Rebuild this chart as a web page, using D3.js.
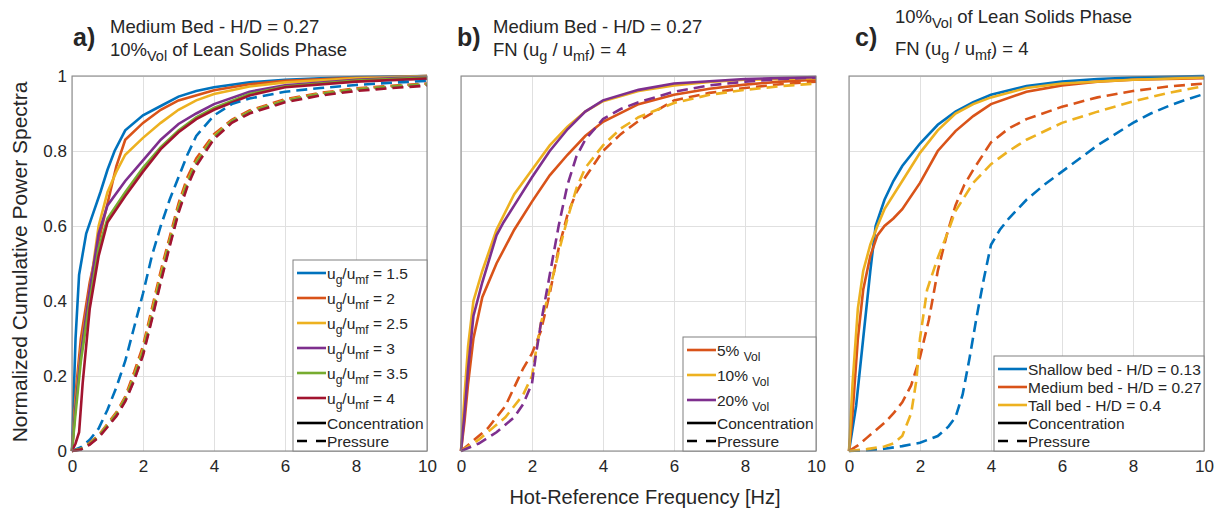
<!DOCTYPE html>
<html>
<head>
<meta charset="utf-8">
<script src="https://cdn.jsdelivr.net/npm/d3@7"></script>
<style>
  body { margin: 0; background: #fff; }
  text { font-family: "Liberation Sans", Arial, sans-serif; fill: #262626; }
</style>
</head>
<body>
<svg id="chart" width="1219" height="510"></svg>
<script>
// axis ticks
var xTicks = [0, 2, 4, 6, 8, 10];
var xTickLabels = ["0", "2", "4", "6", "8", "10"];
var yTicks = [0, 0.2, 0.4, 0.6, 0.8, 1];
var yTickLabels = ["0", "0.2", "0.4", "0.6", "0.8", "1"];

// colours (matlab default order)
var cBlue = "#0072BD", cRed = "#D95319", cYellow = "#EDB120",
    cPurple = "#7E2F8E", cGreen = "#77AC30", cDarkRed = "#A2142F";

// ---- panel a : ug/umf sweep, [freq Hz, cumulative]
var aConc15 = [[0,0],[0.1,0.3],[0.2,0.47],[0.4,0.58],[0.6,0.635],[0.8,0.69],[1.0,0.75],[1.2,0.8],[1.5,0.855],[2,0.895],[2.5,0.92],[3,0.945],[3.5,0.96],[4,0.97],[5,0.983],[6,0.99],[7,0.994],[8,0.997],[10,1]];
var aConc2 = [[0,0],[0.1,0.15],[0.25,0.3],[0.5,0.45],[0.75,0.56],[1.0,0.66],[1.25,0.76],[1.5,0.83],[2,0.875],[2.5,0.91],[3,0.935],[4,0.962],[5,0.978],[6,0.987],[8,0.995],[10,1]];
var aConc25 = [[0,0],[0.1,0.13],[0.25,0.27],[0.5,0.43],[0.75,0.6],[1.0,0.69],[1.25,0.745],[1.5,0.79],[2,0.835],[2.5,0.875],[3,0.91],[3.5,0.935],[4,0.952],[5,0.972],[6,0.983],[8,0.994],[10,1]];
var aConc3 = [[0,0],[0.1,0.12],[0.25,0.26],[0.5,0.43],[0.75,0.58],[1,0.655],[1.5,0.72],[2,0.775],[2.5,0.83],[3,0.872],[3.5,0.9],[4,0.925],[5,0.958],[6,0.975],[8,0.99],[10,0.998]];
var aConc35 = [[0,0],[0.1,0.1],[0.25,0.24],[0.5,0.4],[0.75,0.54],[1,0.62],[1.5,0.69],[2,0.755],[2.5,0.81],[3,0.855],[3.5,0.89],[4,0.915],[5,0.952],[6,0.972],[8,0.988],[10,0.996]];
var aConc4 = [[0,0],[0.1,0.02],[0.2,0.05],[0.3,0.18],[0.5,0.38],[0.75,0.52],[1,0.61],[1.5,0.68],[2,0.745],[2.5,0.805],[3,0.85],[3.5,0.885],[4,0.91],[5,0.948],[6,0.97],[8,0.985],[10,0.993]];

var aPres15 = [[0,0],[0.25,0.01],[0.5,0.03],[0.75,0.06],[1,0.11],[1.25,0.17],[1.5,0.24],[1.75,0.33],[2,0.42],[2.25,0.52],[2.5,0.6],[2.75,0.67],[3,0.73],[3.25,0.79],[3.5,0.84],[4,0.895],[4.5,0.925],[5,0.94],[6,0.958],[7,0.968],[8,0.976],[9,0.982],[10,0.987]];
var aPres2 = [[0,0],[0.25,0.006],[0.5,0.022],[0.75,0.042],[1,0.072],[1.25,0.103],[1.5,0.145],[1.75,0.21],[2,0.28],[2.25,0.38],[2.5,0.48],[2.75,0.57],[3,0.66],[3.25,0.73],[3.5,0.78],[4,0.845],[4.5,0.883],[5,0.908],[6,0.938],[7,0.955],[8,0.967],[9,0.974],[10,0.98]];
var aPres25 = [[0,0],[0.25,0.005],[0.5,0.02],[0.75,0.04],[1,0.07],[1.25,0.1],[1.5,0.14],[1.75,0.2],[2,0.27],[2.25,0.37],[2.5,0.47],[2.75,0.56],[3,0.65],[3.25,0.72],[3.5,0.77],[4,0.84],[4.5,0.88],[5,0.905],[6,0.935],[7,0.953],[8,0.965],[9,0.972],[10,0.978]];
var aPres3 = [[0,0],[0.25,0.004],[0.5,0.018],[0.75,0.038],[1,0.066],[1.25,0.095],[1.5,0.135],[1.75,0.19],[2,0.26],[2.25,0.355],[2.5,0.455],[2.75,0.55],[3,0.64],[3.25,0.71],[3.5,0.765],[4,0.835],[4.5,0.877],[5,0.903],[6,0.933],[7,0.951],[8,0.963],[9,0.971],[10,0.977]];
var aPres35 = [[0,0],[0.25,0.005],[0.5,0.019],[0.75,0.039],[1,0.068],[1.25,0.098],[1.5,0.138],[1.75,0.196],[2,0.265],[2.25,0.36],[2.5,0.462],[2.75,0.555],[3,0.645],[3.25,0.715],[3.5,0.768],[4,0.838],[4.5,0.879],[5,0.904],[6,0.934],[7,0.952],[8,0.964],[9,0.972],[10,0.978]];
var aPres4 = [[0,0],[0.25,0.004],[0.5,0.017],[0.75,0.036],[1,0.064],[1.25,0.093],[1.5,0.132],[1.75,0.188],[2,0.255],[2.25,0.35],[2.5,0.45],[2.75,0.545],[3,0.635],[3.25,0.705],[3.5,0.76],[4,0.832],[4.5,0.875],[5,0.9],[6,0.93],[7,0.948],[8,0.96],[9,0.968],[10,0.974]];

// ---- panel b : lean phase volume fraction
var bConc5 = [[0,0],[0.1,0.08],[0.2,0.18],[0.35,0.3],[0.6,0.41],[1,0.5],[1.5,0.59],[2,0.665],[2.5,0.735],[3,0.79],[3.5,0.84],[4,0.878],[5,0.925],[6,0.95],[7,0.966],[8,0.977],[9,0.985],[10,0.99]];
var bConc10 = [[0,0],[0.1,0.15],[0.2,0.28],[0.35,0.4],[0.6,0.48],[1,0.59],[1.5,0.685],[2,0.75],[2.5,0.815],[3,0.865],[3.5,0.905],[4,0.933],[5,0.96],[6,0.975],[7,0.984],[8,0.99],[10,0.994]];
var bConc20 = [[0,0],[0.1,0.1],[0.2,0.22],[0.35,0.36],[0.6,0.45],[1,0.575],[1.2,0.61],[1.5,0.655],[2,0.73],[2.5,0.8],[3,0.858],[3.5,0.905],[4,0.935],[5,0.963],[6,0.98],[8,0.992],[10,0.997]];
var bPres5 = [[0,0],[0.25,0.02],[0.5,0.04],[0.75,0.06],[1,0.09],[1.25,0.12],[1.5,0.17],[1.75,0.22],[2,0.26],[2.25,0.32],[2.5,0.42],[2.75,0.54],[3,0.63],[3.25,0.69],[3.5,0.73],[4,0.8],[4.5,0.845],[5,0.88],[6,0.935],[7,0.955],[8,0.968],[9,0.978],[10,0.985]];
var bPres10 = [[0,0],[0.25,0.015],[0.5,0.03],[0.75,0.05],[1,0.07],[1.25,0.09],[1.5,0.12],[1.75,0.15],[2,0.2],[2.1,0.26],[2.25,0.34],[2.5,0.43],[2.75,0.53],[3,0.62],[3.25,0.7],[3.5,0.755],[4,0.815],[4.5,0.86],[5,0.89],[6,0.928],[7,0.95],[8,0.963],[9,0.973],[10,0.98]];
var bPres20 = [[0,0],[0.25,0.01],[0.5,0.02],[0.75,0.035],[1,0.05],[1.25,0.07],[1.5,0.09],[1.75,0.125],[2,0.18],[2.1,0.25],[2.25,0.34],[2.5,0.47],[2.75,0.6],[3,0.71],[3.25,0.785],[3.5,0.83],[4,0.885],[4.5,0.912],[5,0.93],[6,0.958],[7,0.975],[8,0.985],[9,0.992],[10,0.996]];

// ---- panel c : bed height
var cConcShallow = [[0,0],[0.2,0.12],[0.4,0.3],[0.6,0.48],[0.75,0.6],[1,0.67],[1.25,0.72],[1.5,0.76],[2,0.82],[2.5,0.87],[3,0.905],[3.5,0.93],[4,0.95],[5,0.973],[6,0.985],[7,0.992],[8,0.996],[10,1]];
var cConcMedium = [[0,0],[0.1,0.1],[0.25,0.3],[0.4,0.43],[0.6,0.52],[0.8,0.575],[1,0.6],[1.25,0.62],[1.5,0.645],[2,0.715],[2.5,0.8],[3,0.853],[3.5,0.893],[4,0.925],[5,0.958],[6,0.975],[7,0.985],[8,0.99],[10,0.994]];
var cConcTall = [[0,0],[0.1,0.18],[0.25,0.38],[0.4,0.48],[0.6,0.55],[0.8,0.6],[1,0.645],[1.5,0.72],[2,0.795],[2.5,0.855],[3,0.9],[3.5,0.925],[4,0.943],[5,0.968],[6,0.98],[8,0.99],[10,0.996]];
var cPresShallow = [[0,0],[0.5,0.002],[1,0.006],[1.5,0.013],[2,0.022],[2.5,0.04],[2.8,0.065],[3,0.09],[3.2,0.15],[3.4,0.25],[3.6,0.36],[3.8,0.46],[4,0.55],[4.25,0.59],[4.5,0.62],[5,0.67],[5.5,0.71],[6,0.745],[6.5,0.78],[7,0.815],[7.5,0.845],[8,0.875],[8.5,0.9],[9,0.92],[9.5,0.937],[10,0.952]];
var cPresMedium = [[0,0],[0.25,0.015],[0.5,0.035],[0.75,0.055],[1,0.075],[1.25,0.1],[1.5,0.13],[1.75,0.175],[2,0.25],[2.25,0.35],[2.5,0.48],[2.75,0.575],[3,0.655],[3.25,0.71],[3.5,0.75],[4,0.823],[4.5,0.86],[5,0.885],[6,0.918],[7,0.943],[8,0.96],[9,0.972],[10,0.98]];
var cPresTall = [[0,0],[0.5,0.005],[1,0.012],[1.25,0.02],[1.5,0.04],[1.75,0.1],[1.9,0.19],[2,0.3],[2.2,0.43],[2.5,0.515],[2.75,0.575],[3,0.64],[3.5,0.715],[4,0.765],[4.5,0.8],[5,0.83],[6,0.875],[7,0.905],[8,0.932],[9,0.955],[10,0.973]];

var svg = d3.select("#chart");
var top_ = 76, bottom = 451;
var dash = "11,6";

// parts: [text, "sub" or ""]
function richText(sel, parts) {
  parts.forEach(function (p, i) {
    var prevSub = i > 0 && parts[i - 1][1] == "sub";
    var t = sel.append("tspan").text(p[0]);
    if (p[1] == "sub") {
      t.attr("font-size", "0.78em").attr("dy", prevSub ? 0 : 5);
    } else if (prevSub) {
      t.attr("dy", -5);
    }
  });
}

function ugLabel(v) { return [["u",""],["g","sub"],["/u",""],["mf","sub"],[" = " + v,""]]; }
function volLabel(v) { return [[v + "% ",""],["Vol","sub"]]; }

var panels = [
  {
    left: 72, right: 427, letter: "a)", letterX: 73, titleX: 110,
    titleY: [33, 56],
    title: [[["Medium Bed - H/D = 0.27",""]], [["10%",""],["Vol","sub"],[" of Lean Solids Phase",""]]],
    yLabels: true,
    series: [
      {d: aConc15, c: cBlue}, {d: aConc2, c: cRed}, {d: aConc25, c: cYellow},
      {d: aConc3, c: cPurple}, {d: aConc35, c: cGreen}, {d: aConc4, c: cDarkRed},
      {d: aPres15, c: cBlue, dashed: true}, {d: aPres2, c: cRed, dashed: true}, {d: aPres25, c: cYellow, dashed: true},
      {d: aPres3, c: cPurple, dashed: true}, {d: aPres35, c: cGreen, dashed: true}, {d: aPres4, c: cDarkRed, dashed: true}
    ],
    legend: {left: 293, first: 273, gap: 25,
      items: [{c: cBlue, t: ugLabel("1.5")}, {c: cRed, t: ugLabel("2")}, {c: cYellow, t: ugLabel("2.5")},
              {c: cPurple, t: ugLabel("3")}, {c: cGreen, t: ugLabel("3.5")}, {c: cDarkRed, t: ugLabel("4")}]}
  },
  {
    left: 461, right: 816, letter: "b)", letterX: 457, titleX: 493,
    titleY: [33, 56],
    title: [[["Medium Bed - H/D = 0.27",""]], [["FN (u",""],["g","sub"],[" / u",""],["mf","sub"],[") = 4",""]]],
    yLabels: false,
    series: [
      {d: bConc5, c: cRed}, {d: bConc10, c: cYellow}, {d: bConc20, c: cPurple},
      {d: bPres5, c: cRed, dashed: true}, {d: bPres10, c: cYellow, dashed: true}, {d: bPres20, c: cPurple, dashed: true}
    ],
    legend: {left: 683, first: 350, gap: 25,
      items: [{c: cRed, t: volLabel("5")}, {c: cYellow, t: volLabel("10")}, {c: cPurple, t: volLabel("20")}]}
  },
  {
    left: 849, right: 1204, letter: "c)", letterX: 855, titleX: 895,
    titleY: [23, 55],
    title: [[["10%",""],["Vol","sub"],[" of Lean Solids Phase",""]], [["FN (u",""],["g","sub"],[" / u",""],["mf","sub"],[") = 4",""]]],
    yLabels: false,
    series: [
      {d: cConcShallow, c: cBlue}, {d: cConcMedium, c: cRed}, {d: cConcTall, c: cYellow},
      {d: cPresShallow, c: cBlue, dashed: true}, {d: cPresMedium, c: cRed, dashed: true}, {d: cPresTall, c: cYellow, dashed: true}
    ],
    legend: {left: 994, first: 369, gap: 18,
      items: [{c: cBlue, t: [["Shallow bed - H/D = 0.13",""]]}, {c: cRed, t: [["Medium bed - H/D = 0.27",""]]},
              {c: cYellow, t: [["Tall bed - H/D = 0.4",""]]}]}
  }
];

panels.forEach(function (p) {
  var x = d3.scaleLinear().domain([0, 10]).range([p.left, p.right]);
  var y = d3.scaleLinear().domain([0, 1]).range([bottom, top_]);
  var g = svg.append("g");

  // grid
  g.append("g")
    .attr("transform", "translate(0," + bottom + ")")
    .call(d3.axisBottom(x).tickValues(xTicks).tickSize(-(bottom - top_)).tickFormat(""))
    .call(function (s) { s.select(".domain").remove(); s.selectAll("line").attr("stroke", "#e0e0e0"); });
  g.append("g")
    .attr("transform", "translate(" + p.left + ",0)")
    .call(d3.axisLeft(y).tickValues(yTicks).tickSize(-(p.right - p.left)).tickFormat(""))
    .call(function (s) { s.select(".domain").remove(); s.selectAll("line").attr("stroke", "#e0e0e0"); });

  // curves
  var line = d3.line().x(function (d) { return x(d[0]); }).y(function (d) { return y(d[1]); });
  p.series.forEach(function (s) {
    g.append("path")
      .attr("d", line(s.d))
      .attr("fill", "none")
      .attr("stroke", s.c)
      .attr("stroke-width", 2.6)
      .attr("stroke-dasharray", s.dashed ? dash : null);
  });

  // box
  g.append("rect")
    .attr("x", p.left).attr("y", top_)
    .attr("width", p.right - p.left).attr("height", bottom - top_)
    .attr("fill", "none").attr("stroke", "#808080").attr("stroke-width", 1);

  // tick labels
  g.append("g")
    .attr("transform", "translate(0," + bottom + ")")
    .call(d3.axisBottom(x).tickValues(xTicks).tickSize(0).tickPadding(9)
      .tickFormat(function (d, i) { return xTickLabels[i]; }))
    .call(function (s) { s.select(".domain").remove(); })
    .selectAll("text").attr("font-size", 17).attr("font-family", "Liberation Sans, Arial, sans-serif").attr("fill", "#262626");
  if (p.yLabels) {
    g.append("g")
      .attr("transform", "translate(" + p.left + ",0)")
      .call(d3.axisLeft(y).tickValues(yTicks).tickSize(0).tickPadding(5)
        .tickFormat(function (d, i) { return yTickLabels[i]; }))
      .call(function (s) { s.select(".domain").remove(); })
      .selectAll("text").attr("font-size", 17).attr("font-family", "Liberation Sans, Arial, sans-serif").attr("fill", "#262626");
  }

  // legend
  var L = p.legend;
  var nItems = L.items.length;
  var legTop = L.first - 13;
  var lg = g.append("g");
  lg.append("rect")
    .attr("x", L.left).attr("y", legTop)
    .attr("width", p.right - L.left).attr("height", bottom - legTop)
    .attr("fill", "#fff").attr("stroke", "#808080").attr("stroke-width", 1);
  var rows = L.items.map(function (it, i) { return {c: it.c, t: it.t, y: L.first + i * L.gap}; });
  var yC = L.first + nItems * L.gap;
  if (L.gap > 20) yC = 423;
  rows.push({c: "#000", t: [["Concentration",""]], y: yC});
  rows.push({c: "#000", t: [["Pressure",""]], y: yC + 18, dashed: true});
  rows.forEach(function (r) {
    lg.append("line")
      .attr("x1", L.left + 4).attr("x2", L.left + 33)
      .attr("y1", r.y).attr("y2", r.y)
      .attr("stroke", r.c).attr("stroke-width", 2.6)
      .attr("stroke-dasharray", r.dashed ? "10,9" : null);
    var t = lg.append("text")
      .attr("x", L.left + 34).attr("y", r.y + 5.5)
      .attr("font-size", 15.5);
    richText(t, r.t);
  });

  // title
  svg.append("text")
    .attr("x", p.letterX).attr("y", 46)
    .attr("font-size", 25).attr("font-weight", "bold").attr("fill", "#111")
    .text(p.letter);
  p.title.forEach(function (parts, i) {
    var t = svg.append("text")
      .attr("x", p.titleX).attr("y", p.titleY[i])
      .attr("font-size", 18.5);
    richText(t, parts);
  });
});

// shared axis labels
svg.append("text")
  .attr("x", 645).attr("y", 504)
  .attr("text-anchor", "middle")
  .attr("font-size", 20)
  .text("Hot-Reference Frequency [Hz]");
svg.append("text")
  .attr("transform", "translate(27,262)rotate(-90)")
  .attr("text-anchor", "middle")
  .attr("font-size", 21)
  .text("Normalized Cumulative Power Spectra");
</script>
</body>
</html>
